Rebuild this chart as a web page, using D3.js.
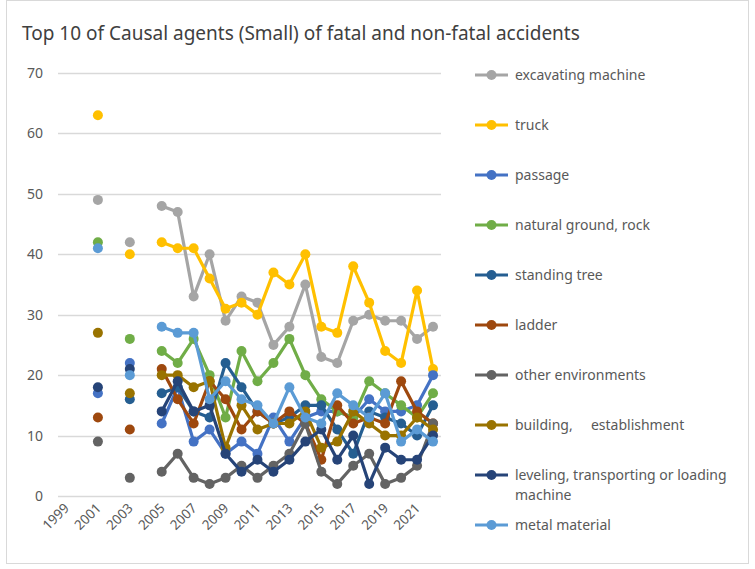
<!DOCTYPE html>
<html>
<head>
<meta charset="utf-8">
<script src="https://cdn.jsdelivr.net/npm/d3@7"></script>
<style>
  body { margin: 0; background: #fff; }
  text { font-family: "Noto Sans", "Open Sans", sans-serif; }
</style>
</head>
<body>
<svg id="chart" width="755" height="569"></svg>
<script>
var years = [1999, 2000, 2001, 2002, 2003, 2004, 2005, 2006, 2007, 2008, 2009, 2010,
  2011, 2012, 2013, 2014, 2015, 2016, 2017, 2018, 2019, 2020, 2021, 2022];
var yTicks = [0, 10, 20, 30, 40, 50, 60, 70];

var seriesNames = ['excavating machine', 'truck', 'passage', 'natural ground, rock',
  'standing tree', 'ladder', 'other environments', 'building,     establishment',
  'leveling, transporting or loading machine', 'metal material'];
var seriesColors = ['#A5A5A5', '#FFC000', '#4472C4', '#70AD47', '#255E91',
  '#9E480E', '#636363', '#997300', '#264478', '#5B9BD5'];

var excavating = [null, null, 49, null, 42, null, 48, 47, 33, 40, 29, 33, 32, 25, 28, 35, 23, 22, 29, 30, 29, 29, 26, 28];
var truck      = [null, null, 63, null, 40, null, 42, 41, 41, 36, 31, 32, 30, 37, 35, 40, 28, 27, 38, 32, 24, 22, 34, 21];
var passage    = [null, null, 17, null, 22, null, 12, 18, 9, 11, 7, 9, 7, 13, 9, 13, 14, 14, 13, 16, 14, 14, 15, 20];
var natural    = [null, null, 42, null, 26, null, 24, 22, 26, 20, 13, 24, 19, 22, 26, 20, 16, 14, 13, 19, 17, 15, 13, 17];
var standing   = [null, null, null, null, 16, null, 17, 18, 14, 13, 22, 18, 14, 12, 13, 15, 15, 11, 7, 14, 13, 12, 10, 15];
var ladder     = [null, null, 13, null, 11, null, 21, 16, 12, 19, 16, 11, 14, 12, 14, 12, 6, 15, 12, 13, 12, 19, 14, 12];
var otherEnv   = [null, null, 9, null, 3, null, 4, 7, 3, 2, 3, 5, 3, 5, 7, 12, 4, 2, 5, 7, 2, 3, 5, 12];
var building   = [null, null, 27, null, 17, null, 20, 20, 18, 19, 8, 15, 11, 12, 12, 14, 8, 9, 14, 12, 10, 10, 13, 11];
var leveling   = [null, null, 18, null, 21, null, 14, 19, 14, 15, 7, 4, 6, 4, 6, 9, 11, 6, 10, 2, 8, 6, 6, 10];
var metal      = [null, null, 41, null, 20, null, 28, 27, 27, 16, 19, 16, 15, 12, 18, 13, 12, 17, 15, 13, 17, 9, 11, 9];

var seriesValues = [excavating, truck, passage, natural, standing, ladder,
  otherEnv, building, leveling, metal];

var svg = d3.select('#chart');

// chart frame
svg.append('rect')
  .attr('x', 6.5).attr('y', 0.5)
  .attr('width', 742).attr('height', 563)
  .attr('fill', '#fff')
  .attr('stroke', '#d9d9d9');

svg.append('text')
  .attr('x', 22).attr('y', 40)
  .attr('font-size', 19)
  .attr('fill', '#404040')
  .text('Top 10 of Causal agents (Small) of fatal and non-fatal accidents');

var x = d3.scaleBand().domain(years).range([58, 441]);
var y = d3.scaleLinear().domain([0, 70]).range([496, 73]);
var cx = function(yr) { return x(yr) + x.bandwidth() / 2; };

// gridlines
svg.append('g')
  .selectAll('line')
  .data(yTicks)
  .join('line')
  .attr('x1', 58).attr('x2', 441)
  .attr('y1', function(d) { return Math.round(y(d)) + 0.5; })
  .attr('y2', function(d) { return Math.round(y(d)) + 0.5; })
  .attr('stroke', '#d9d9d9')
  .attr('stroke-width', 1.5);

// y axis labels
var yAxis = svg.append('g')
  .attr('transform', 'translate(43,0)')
  .call(d3.axisLeft(y).tickValues(yTicks).tickSize(0).tickPadding(0));
yAxis.select('.domain').remove();
yAxis.selectAll('text')
  .attr('font-size', 14)
  .attr('fill', '#595959')
  .style('font-family', '"Noto Sans", sans-serif');

// x axis labels, odd years only, rotated
var xAxis = svg.append('g')
  .attr('transform', 'translate(0,496)')
  .call(d3.axisBottom(x)
    .tickValues(years.filter(function(d) { return d % 2 === 1; }))
    .tickSize(0));
xAxis.select('.domain').remove();
xAxis.selectAll('text')
  .attr('font-size', 13.5)
  .attr('fill', '#595959')
  .style('font-family', '"Noto Sans", sans-serif')
  .attr('text-anchor', 'end')
  .attr('dy', null)
  .attr('y', 0)
  .attr('transform', 'translate(4,13) rotate(-45)');

var line = d3.line()
  .defined(function(d) { return d.v != null; })
  .x(function(d) { return cx(d.year); })
  .y(function(d) { return y(d.v); });

var plot = svg.append('g');

seriesValues.forEach(function(vals, i) {
  var pts = years.map(function(yr, j) { return {year: yr, v: vals[j]}; });
  var g = plot.append('g').attr('class', 'series');
  g.append('path')
    .datum(pts)
    .attr('d', line)
    .attr('fill', 'none')
    .attr('stroke', seriesColors[i])
    .attr('stroke-width', 3.2)
    .attr('stroke-linejoin', 'round');
  g.selectAll('circle')
    .data(pts.filter(function(d) { return d.v != null; }))
    .join('circle')
    .attr('cx', function(d) { return cx(d.year); })
    .attr('cy', function(d) { return y(d.v); })
    .attr('r', 5)
    .attr('fill', seriesColors[i]);
});

// legend
var legend = svg.append('g');
seriesNames.forEach(function(name, i) {
  var ly = 75 + i * 50;
  legend.append('line')
    .attr('x1', 475).attr('x2', 508)
    .attr('y1', ly).attr('y2', ly)
    .attr('stroke', seriesColors[i])
    .attr('stroke-width', 3.2);
  legend.append('circle')
    .attr('cx', 491.5).attr('cy', ly)
    .attr('r', 5)
    .attr('fill', seriesColors[i]);
  var t = legend.append('text')
    .attr('x', 515).attr('y', ly + 5)
    .attr('font-size', 14)
    .attr('fill', '#595959')
    .style('white-space', 'pre');
  if (name.indexOf('loading') > 0) {
    t.text('leveling, transporting or loading');
    legend.append('text')
      .attr('x', 515).attr('y', ly + 25)
      .attr('font-size', 14)
      .attr('fill', '#595959')
      .text('machine');
  } else {
    t.text(name);
  }
});
</script>
</body>
</html>
